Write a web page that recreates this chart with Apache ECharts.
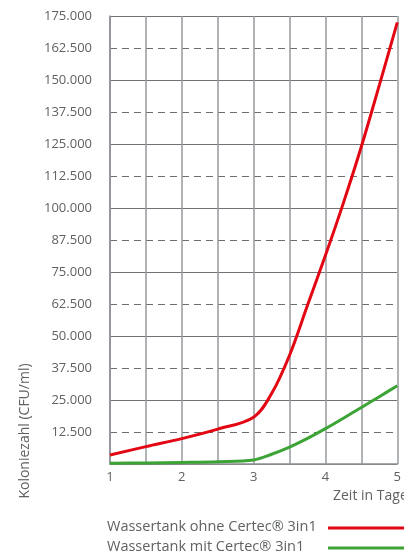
<!DOCTYPE html>
<html>
<head>
<meta charset="utf-8">
<script src="https://cdn.jsdelivr.net/npm/echarts@6/dist/echarts.min.js"></script>
<style>
  html, body { margin: 0; padding: 0; background: #fff; }
  #main { width: 404px; height: 554px; }
</style>
</head>
<body>
<div id="main"></div>
<script>
// Tage
var days = [1, 1.5, 2, 2.5, 3, 3.25, 3.5, 3.75, 4, 4.25, 4.5, 4.75, 5];
// Koloniezahl ohne Certec
var ohneValues = [3500, 6800, 9900, 13600, 18300, 27500, 42500, 62000, 81500, 102000, 124000, 148000, 172500];

var mitDays = [1, 1.5, 2, 2.5, 3, 3.25, 3.5, 3.75, 4, 4.25, 4.5, 4.75, 5];
var mitValues = [300, 400, 600, 900, 1600, 3800, 6600, 10000, 13800, 17900, 22100, 26300, 30600];

var xTicks = ['1', '2', '3', '4', '5'];
var yTicks = ['12.500', '25.000', '37.500', '50.000', '62.500', '75.000', '87.500',
  '100.000', '112.500', '125.000', '137.500', '150.000', '162.500', '175.000'];

var seriesNames = ['Wassertank ohne Certec® 3in1', 'Wassertank mit Certec® 3in1'];

var font = '"Open Sans", sans-serif';
var textColor = '#5f6163';

function pairs(xs, ys) {
    return xs.map(function (x, i) { return [x, ys[i]]; });
}

var myChart = echarts.init(document.getElementById('main'));

var option = {
    animation: false,
    grid: { left: 110, right: 2, top: 16, bottom: 90 },
    xAxis: {
        type: 'value',
        min: 1,
        max: 5,
        interval: 0.5,
        axisLine: { show: true, onZero: false, lineStyle: { color: '#8c9094', width: 1.5 } },
        axisTick: { show: false },
        axisLabel: {
            margin: 7,
            fontFamily: font,
            fontSize: 13,
            color: textColor,
            formatter: function (v) {
                return Number.isInteger(v) ? xTicks[v - 1] : '';
            }
        },
        splitLine: { show: true, lineStyle: { color: '#979b9f', width: 1.5 } }
    },
    yAxis: [
        {
            type: 'value',
            min: 0,
            max: 175000,
            interval: 12500,
            axisLine: { show: true, lineStyle: { color: '#8c9094', width: 1.5 } },
            axisTick: { show: false },
            axisLabel: {
                margin: 18,
                fontFamily: font,
                fontSize: 13,
                color: textColor,
                formatter: function (v) {
                    var i = Math.round(v / 12500);
                    return i > 0 ? yTicks[i - 1] : '';
                }
            },
            splitLine: {
                show: true,
                lineStyle: { color: ['transparent', '#6e6e6e'], width: 1, type: [7, 5] }
            }
        },
        {
            type: 'value',
            min: 0,
            max: 175000,
            interval: 25000,
            position: 'left',
            axisLine: { show: false },
            axisTick: { show: false },
            axisLabel: { show: false },
            splitLine: { show: true, lineStyle: { color: '#707274', width: 1.2 } }
        }
    ],
    series: [
        {
            name: seriesNames[0],
            type: 'line',
            data: pairs(days, ohneValues),
            smooth: 0.35,
            showSymbol: false,
            z: 5,
            lineStyle: { color: '#e30613', width: 3 }
        },
        {
            name: seriesNames[1],
            type: 'line',
            data: pairs(mitDays, mitValues),
            smooth: 0.35,
            showSymbol: false,
            z: 4,
            lineStyle: { color: '#3ca435', width: 3 }
        }
    ],
    graphic: [
        {
            type: 'text',
            x: 25, y: 431,
            rotation: Math.PI / 2,
            style: {
                text: 'Koloniezahl (CFU/ml)',
                fontFamily: font, fontSize: 14, fill: textColor,
                align: 'center', verticalAlign: 'middle'
            }
        },
        {
            type: 'text',
            x: 333, y: 496,
            style: {
                text: 'Zeit in Tagen',
                fontFamily: font, fontSize: 14, fill: textColor,
                align: 'left', verticalAlign: 'middle'
            }
        },
        {
            type: 'text',
            x: 107, y: 527,
            style: {
                text: seriesNames[0],
                fontFamily: font, fontSize: 14.5, fill: textColor,
                align: 'left', verticalAlign: 'middle'
            }
        },
        {
            type: 'line',
            shape: { x1: 328, y1: 528, x2: 404, y2: 528 },
            style: { stroke: '#e30613', lineWidth: 3 }
        },
        {
            type: 'text',
            x: 107, y: 547,
            style: {
                text: seriesNames[1],
                fontFamily: font, fontSize: 14.5, fill: textColor,
                align: 'left', verticalAlign: 'middle'
            }
        },
        {
            type: 'line',
            shape: { x1: 328, y1: 548, x2: 404, y2: 548 },
            style: { stroke: '#3ca435', lineWidth: 3 }
        }
    ]
};

myChart.setOption(option);
</script>
</body>
</html>
